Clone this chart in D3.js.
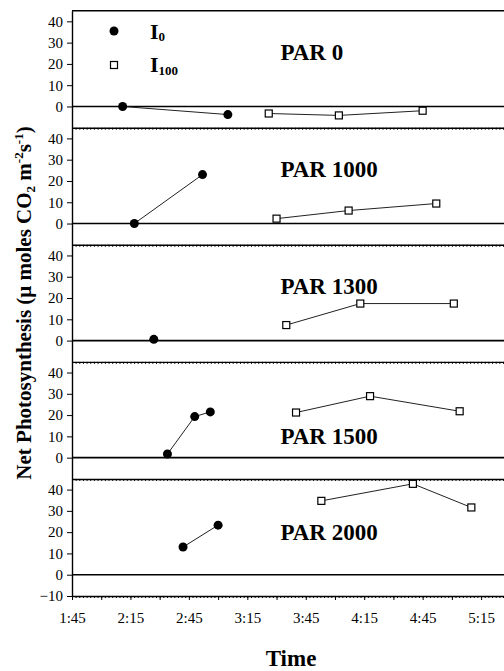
<!DOCTYPE html>
<html lang="en">
<head>
<meta charset="UTF-8">
<title>Net Photosynthesis by PAR level</title>
<script src="https://cdnjs.cloudflare.com/ajax/libs/d3/7.8.5/d3.min.js"></script>
<style>
    body {
        margin: 0;
        padding: 0;
        background: #fff;
    }
    svg, svg text {
        font-family: "Liberation Serif", "Times New Roman", serif;
    }
    svg {
        display: block;
    }
</style>
</head>
<body>
<div id="chart"></div>

<script>
    // panels, top to bottom
    var panels = ["PAR 0", "PAR 1000", "PAR 1300", "PAR 1500", "PAR 2000"];

    // I0 series (filled circles), one list per panel
    var i0Times = [
        ["2:11", "3:05"],
        ["2:17", "2:52"],
        ["2:27"],
        ["2:34", "2:48", "2:56"],
        ["2:42", "3:00"]
    ];
    var i0Values = [
        [0, -3.8],
        [0, 23],
        [0.6],
        [1.7, 19.3, 21.5],
        [13, 23.3]
    ];

    // I100 series (open squares)
    var i100Times = [
        ["3:26", "4:02", "4:45"],
        ["3:30", "4:07", "4:52"],
        ["3:35", "4:13", "5:01"],
        ["3:40", "4:18", "5:04"],
        ["3:53", "4:40", "5:10"]
    ];
    var i100Values = [
        [-3.3, -4.2, -2],
        [2.3, 6.1, 9.4],
        [7.3, 17.4, 17.4],
        [21.2, 28.9, 21.8],
        [34.7, 42.7, 31.6]
    ];

    var xTickLabels = ["1:45", "2:15", "2:45", "3:15", "3:45", "4:15", "4:45", "5:15"];
    var yTickValues = [40, 30, 20, 10, 0];
    var yTickValuesLast = [40, 30, 20, 10, 0, -10];

    function toMin(s) {
        var p = s.split(":");
        return +p[0] * 60 + +p[1];
    }

    var svgWidth = 504, svgHeight = 671;
    var left = 72, top0 = 10.7, bottom = 596;
    var panelH = (bottom - top0) / panels.length;

    var svg = d3.select("#chart").append("svg")
        .attr("width", svgWidth)
        .attr("height", svgHeight);

    svg.append("rect").attr("width", svgWidth).attr("height", svgHeight).attr("fill", "#fff");

    // x runs past the right edge of the picture (cropped)
    var x = d3.scaleLinear()
        .domain([toMin("1:45"), toMin("5:30")])
        .range([left, left + 225 * 1.948]);

    var majorTicks = d3.range(toMin("1:45"), toMin("5:30") + 1, 15);
    var minorTicks = d3.range(toMin("1:45"), toMin("5:30") + 1, 15 / 8);

    function fmt(m) {
        var h = Math.floor(m / 60), mm = m % 60;
        return h + ":" + (mm < 10 ? "0" : "") + mm;
    }

    // top border
    svg.append("line")
        .attr("x1", left).attr("x2", x.range()[1])
        .attr("y1", top0).attr("y2", top0)
        .attr("stroke", "#000").attr("stroke-width", 1.4);

    panels.forEach(function(name, i) {
        var pTop = top0 + i * panelH;
        var pBot = pTop + panelH;
        var last = i === panels.length - 1;

        var y = d3.scaleLinear().domain([-10, 45]).range([pBot, pTop]);

        // y axis
        var ya = svg.append("g")
            .attr("transform", "translate(" + left + ",0)")
            .call(d3.axisLeft(y)
                .tickValues(last ? yTickValuesLast : yTickValues)
                .tickSize(5).tickSizeOuter(0).tickPadding(4));
        ya.attr("font-family", null).attr("font-size", null);
        ya.select(".domain").attr("stroke-width", 1.4);
        ya.selectAll("text").style("font-size", "15px").attr("fill", "#000");

        // panel bottom axis (minor ticks)
        var xa = svg.append("g")
            .attr("transform", "translate(0," + pBot + ")")
            .call(d3.axisBottom(x).tickValues(minorTicks).tickSize(2).tickSizeOuter(0).tickFormat(""));
        xa.select(".domain").attr("stroke-width", 1.4);
        xa.selectAll(".tick line").attr("stroke-width", 1);

        if (last) {
            var xm = svg.append("g")
                .attr("transform", "translate(0," + pBot + ")")
                .call(d3.axisBottom(x).tickValues(majorTicks).tickSize(4).tickSizeOuter(0).tickPadding(12)
                    .tickFormat(function(m) { return xTickLabels.indexOf(fmt(m)) >= 0 ? fmt(m) : ""; }));
            xm.attr("font-family", null).attr("font-size", null);
            xm.select(".domain").remove();
            xm.selectAll("text").style("font-size", "15px").attr("fill", "#000");
        }

        // zero line
        svg.append("line")
            .attr("x1", left).attr("x2", x.range()[1])
            .attr("y1", y(0)).attr("y2", y(0))
            .attr("stroke", "#000").attr("stroke-width", 1.6);

        // panel label
        svg.append("text")
            .attr("x", x(toMin("3:32")))
            .attr("y", y(i === 3 ? 6.5 : i === 4 ? 16.4 : 22))
            .style("font-size", "23px")
            .style("font-weight", "bold")
            .text(name);

        var line = d3.line().x(function(d) { return x(d[0]); }).y(function(d) { return y(d[1]); });

        var s0 = i0Times[i].map(function(t, k) { return [toMin(t), i0Values[i][k]]; });
        var s1 = i100Times[i].map(function(t, k) { return [toMin(t), i100Values[i][k]]; });

        [s0, s1].forEach(function(s) {
            svg.append("path").datum(s)
                .attr("d", line)
                .attr("fill", "none")
                .attr("stroke", "#222")
                .attr("stroke-width", 1);
        });

        svg.selectAll(null).data(s0).enter().append("circle")
            .attr("cx", function(d) { return x(d[0]); })
            .attr("cy", function(d) { return y(d[1]); })
            .attr("r", 4.5)
            .attr("fill", "#000");

        svg.selectAll(null).data(s1).enter().append("rect")
            .attr("x", function(d) { return x(d[0]) - 3.5; })
            .attr("y", function(d) { return y(d[1]) - 3.5; })
            .attr("width", 7).attr("height", 7)
            .attr("fill", "#fff")
            .attr("stroke", "#000")
            .attr("stroke-width", 1.2);
    });

    // legend
    svg.append("circle").attr("cx", 114).attr("cy", 31).attr("r", 4.5).attr("fill", "#000");
    svg.append("rect").attr("x", 110.5).attr("y", 61.5).attr("width", 7).attr("height", 7)
        .attr("fill", "#fff").attr("stroke", "#000").attr("stroke-width", 1.2);

    var l0 = svg.append("text").attr("x", 150).attr("y", 39).style("font-size", "22px").style("font-weight", "bold");
    l0.append("tspan").text("I");
    l0.append("tspan").style("font-size", "13px").attr("dy", 2).text("0");
    var l1 = svg.append("text").attr("x", 150).attr("y", 72).style("font-size", "22px").style("font-weight", "bold");
    l1.append("tspan").text("I");
    l1.append("tspan").style("font-size", "13px").attr("dy", 3).text("100");

    // axis titles
    svg.append("text")
        .attr("x", 291).attr("y", 666)
        .attr("text-anchor", "middle")
        .style("font-size", "23px")
        .style("font-weight", "bold")
        .text("Time");

    var title = svg.append("text")
        .attr("transform", "translate(31,303) rotate(-90)")
        .attr("text-anchor", "middle")
        .style("font-size", "21px")
        .style("font-weight", "bold");
    title.append("tspan").text("Net Photosynthesis (\u03bc moles CO");
    title.append("tspan").style("font-size", "13px").attr("dy", 4).text("2");
    title.append("tspan").attr("dy", -4).text(" m");
    title.append("tspan").style("font-size", "13px").attr("dy", -8).text("-2");
    title.append("tspan").attr("dy", 8).text("s");
    title.append("tspan").style("font-size", "13px").attr("dy", -8).text("-1");
    title.append("tspan").attr("dy", 8).text(")");
</script>
</body>
</html>
